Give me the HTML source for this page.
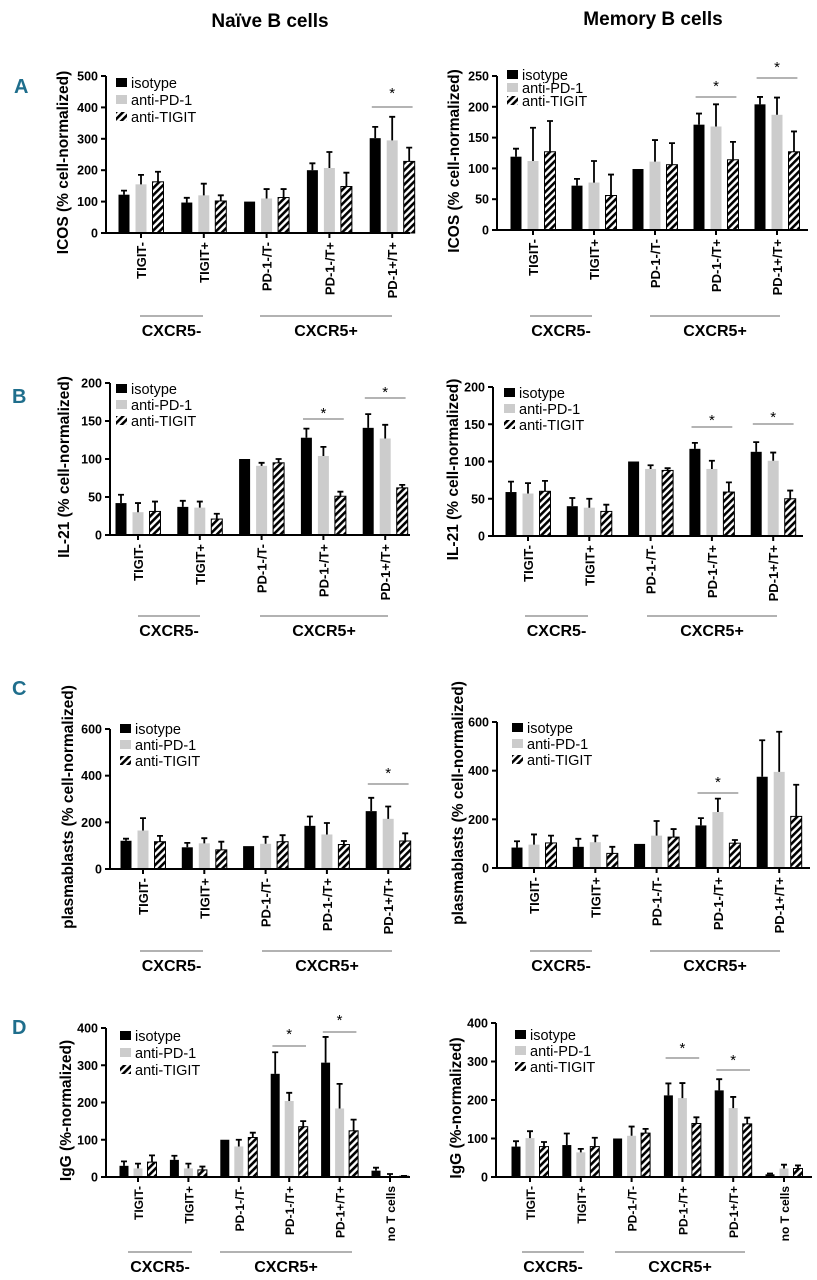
<!DOCTYPE html>
<html><head><meta charset="utf-8">
<style>
html,body{margin:0;padding:0;background:#fff;}
svg{display:block;font-family:"Liberation Sans",Arial,sans-serif;}
</style></head>
<body>
<svg id="fig" width="817" height="1280" viewBox="0 0 817 1280">
<defs>
<pattern id="hatch" patternUnits="userSpaceOnUse" width="5" height="5" patternTransform="rotate(45)">
<rect width="5" height="5" fill="#fff"/><rect width="2.6" height="5" fill="#000"/>
</pattern>
</defs>
<text x="270" y="27" font-size="19" font-weight="bold" text-anchor="middle">Naïve B cells</text>
<text x="653" y="25" font-size="19" font-weight="bold" text-anchor="middle">Memory B cells</text>
<text x="14" y="93" font-size="20" font-weight="bold" fill="#1f6e8c">A</text>
<text x="12" y="403" font-size="20" font-weight="bold" fill="#1f6e8c">B</text>
<text x="12" y="695" font-size="20" font-weight="bold" fill="#1f6e8c">C</text>
<text x="12" y="1034" font-size="20" font-weight="bold" fill="#1f6e8c">D</text>
</svg>
<script>
const cats5 = ["TIGIT-","TIGIT+","PD-1-/T-","PD-1-/T+","PD-1+/T+"];
const cats6 = ["TIGIT-","TIGIT+","PD-1-/T-","PD-1-/T+","PD-1+/T+","no T cells"];
const seriesNames = ["isotype","anti-PD-1","anti-TIGIT"];

const A_naive_iso = [122,97,100,200,302];
const A_naive_pd1 = [155,120,110,207,295];
const A_naive_tig = [163,102,113,148,228];
const A_naive_iso_err = [13,15,0,22,36];
const A_naive_pd1_err = [30,37,30,51,75];
const A_naive_tig_err = [32,18,27,44,44];
const A_naive_ticks = [0,100,200,300,400,500];

const A_mem_iso = [119,72,99,171,204];
const A_mem_pd1 = [112,77,111,168,187];
const A_mem_tig = [127,56,106,114,127];
const A_mem_iso_err = [13,11,0,18,12];
const A_mem_pd1_err = [54,35,35,36,28];
const A_mem_tig_err = [50,34,35,29,33];
const A_mem_ticks = [0,50,100,150,200,250];

const B_naive_iso = [42,37,100,128,141];
const B_naive_pd1 = [30,36,91,104,127];
const B_naive_tig = [31,21,95,51,62];
const B_naive_iso_err = [11,8,0,12,18];
const B_naive_pd1_err = [12,8,4,12,18];
const B_naive_tig_err = [13,7,5,6,4];
const B_naive_ticks = [0,50,100,150,200];

const B_mem_iso = [59,40,100,117,113];
const B_mem_pd1 = [57,38,90,90,101];
const B_mem_tig = [60,33,88,59,50];
const B_mem_iso_err = [14,11,0,8,13];
const B_mem_pd1_err = [14,12,5,11,11];
const B_mem_tig_err = [14,9,3,13,11];
const B_mem_ticks = [0,50,100,150,200];

const C_naive_iso = [121,93,98,185,248];
const C_naive_pd1 = [165,110,108,148,215];
const C_naive_tig = [117,82,117,105,120];
const C_naive_iso_err = [9,19,0,40,57];
const C_naive_pd1_err = [53,22,30,49,53];
const C_naive_tig_err = [25,35,28,15,33];
const C_naive_ticks = [0,200,400,600];

const C_mem_iso = [84,87,99,175,375];
const C_mem_pd1 = [96,106,133,230,395];
const C_mem_tig = [103,60,127,102,212];
const C_mem_iso_err = [26,33,0,30,150];
const C_mem_pd1_err = [42,27,60,55,165];
const C_mem_tig_err = [30,27,33,13,130];
const C_mem_ticks = [0,200,400,600];

const D_naive_iso = [30,46,100,277,307,17];
const D_naive_pd1 = [23,23,82,204,184,2];
const D_naive_tig = [40,19,106,135,124,2];
const D_naive_iso_err = [12,11,0,58,69,8];
const D_naive_pd1_err = [13,13,18,22,66,6];
const D_naive_tig_err = [18,9,13,15,30,1];
const D_naive_ticks = [0,100,200,300,400];

const D_mem_iso = [79,83,100,212,225,7];
const D_mem_pd1 = [101,64,107,205,179,22];
const D_mem_tig = [79,79,114,139,138,22];
const D_mem_iso_err = [14,30,0,31,29,2];
const D_mem_pd1_err = [18,9,24,39,29,10];
const D_mem_tig_err = [12,23,11,16,16,8];
const D_mem_ticks = [0,100,200,300,400];

const NS = "http://www.w3.org/2000/svg";
const svg = document.getElementById("fig");
function mk(tag, attrs, parent, txt){
  const e = document.createElementNS(NS, tag);
  for (const k in attrs) e.setAttribute(k, attrs[k]);
  if (txt !== undefined) e.textContent = txt;
  (parent||svg).appendChild(e);
  return e;
}

const panels = [
 {id:"a-naive", cats:cats5, vals:[A_naive_iso,A_naive_pd1,A_naive_tig], errs:[A_naive_iso_err,A_naive_pd1_err,A_naive_tig_err], ticks:A_naive_ticks,
  ax:106, y0:233, yt:76, right:410, c0:141, sp:62.8, bw:11, bs:17, title:"ICOS (% cell-normalized)", tx:62,
  leg:[116,83,17], stars:[[4,107,90]], neg:[140,203], pos:[260,392], ly:316, xfs:13},
 {id:"a-memory", cats:cats5, vals:[A_mem_iso,A_mem_pd1,A_mem_tig], errs:[A_mem_iso_err,A_mem_pd1_err,A_mem_tig_err], ticks:A_mem_ticks,
  ax:497, y0:230, yt:76, right:808, c0:533, sp:61, bw:11, bs:17, title:"ICOS (% cell-normalized)", tx:453,
  leg:[507,75,13], stars:[[3,97,83],[4,78,64]], neg:[530,592], pos:[650,780], ly:316, xfs:13},
 {id:"b-naive", cats:cats5, vals:[B_naive_iso,B_naive_pd1,B_naive_tig], errs:[B_naive_iso_err,B_naive_pd1_err,B_naive_tig_err], ticks:B_naive_ticks,
  ax:110, y0:535, yt:383, right:410, c0:138, sp:61.8, bw:11, bs:17, title:"IL-21 (% cell-normalized)", tx:63,
  leg:[116,389,16], stars:[[3,419,410],[4,398,389]], neg:[138,200], pos:[260,388], ly:616, xfs:13},
 {id:"b-memory", cats:cats5, vals:[B_mem_iso,B_mem_pd1,B_mem_tig], errs:[B_mem_iso_err,B_mem_pd1_err,B_mem_tig_err], ticks:B_mem_ticks,
  ax:493, y0:536, yt:387, right:803, c0:528, sp:61.3, bw:11, bs:17, title:"IL-21 (% cell-normalized)", tx:452,
  leg:[504,393,16], stars:[[3,427,417],[4,424,414]], neg:[525,588], pos:[647,777], ly:616, xfs:13},
 {id:"c-naive", cats:cats5, vals:[C_naive_iso,C_naive_pd1,C_naive_tig], errs:[C_naive_iso_err,C_naive_pd1_err,C_naive_tig_err], ticks:C_naive_ticks,
  ax:110, y0:869, yt:729, right:410, c0:143, sp:61.3, bw:11, bs:17, title:"plasmablasts (% cell-normalized)", tx:67,
  leg:[120,729,16], stars:[[4,784,770]], neg:[140,203], pos:[262,392], ly:951, xfs:13},
 {id:"c-memory", cats:cats5, vals:[C_mem_iso,C_mem_pd1,C_mem_tig], errs:[C_mem_iso_err,C_mem_pd1_err,C_mem_tig_err], ticks:C_mem_ticks,
  ax:497, y0:868, yt:722, right:810, c0:534, sp:61.3, bw:11, bs:17, title:"plasmablasts (% cell-normalized)", tx:457,
  leg:[512,728,16], stars:[[3,793,779]], neg:[530,592], pos:[650,780], ly:951, xfs:13},
 {id:"d-naive", cats:cats6, vals:[D_naive_iso,D_naive_pd1,D_naive_tig], errs:[D_naive_iso_err,D_naive_pd1_err,D_naive_tig_err], ticks:D_naive_ticks,
  ax:106, y0:1177, yt:1028, right:410, c0:138, sp:50.4, bw:9, bs:14, title:"IgG (%-normalized)", tx:65,
  leg:[120,1036,17], stars:[[3,1046,1031],[4,1032,1017]], neg:[128,192], pos:[220,352], ly:1252, xfs:12},
 {id:"d-memory", cats:cats6, vals:[D_mem_iso,D_mem_pd1,D_mem_tig], errs:[D_mem_iso_err,D_mem_pd1_err,D_mem_tig_err], ticks:D_mem_ticks,
  ax:496, y0:1177, yt:1023, right:812, c0:530, sp:50.8, bw:9, bs:14, title:"IgG (%-normalized)", tx:455,
  leg:[515,1035,16], stars:[[3,1058,1045],[4,1070,1057]], neg:[522,584], pos:[615,745], ly:1252, xfs:12}
];
const fills = ["#000","#cccccc","url(#hatch)"];

panels.forEach(p => {
  const g = mk("g", {});
  
  
  const max = p.ticks[p.ticks.length-1];
  const ys = v => p.y0 - v / max * (p.y0 - p.yt);
  const xc = i => p.c0 + i * p.sp;
  p.vals.forEach((arr, s) => {
    arr.forEach((v, i) => {
      const cx = xc(i) + (s-1) * p.bs;
      const top = ys(v);
      const r = mk("rect", {x:cx-p.bw/2, y:top, width:p.bw, height:Math.max(0,p.y0-top), fill:fills[s], stroke:s===2?"#000":"none", "stroke-width":s===2?1:0}, g);
      
      
      const e = p.errs[s][i];
      if (e > 0) {
        const et = ys(v + e);
        const l = mk("path", {d:`M${cx} ${top} V${et} M${cx-3} ${et} H${cx+3}`, stroke:"#000", "stroke-width":1.8, fill:"none"}, g);
        
        
      }
    });
  });
  const ya = mk("line", {x1:p.ax, y1:p.yt, x2:p.ax, y2:p.y0, stroke:"#000", "stroke-width":2}, g);
  
  
  const xa = mk("line", {x1:p.ax, y1:p.y0, x2:p.right, y2:p.y0, stroke:"#000", "stroke-width":2}, g);
  
  
  p.ticks.forEach(t => {
    const y = ys(t);
    mk("line", {x1:p.ax-5, y1:y, x2:p.ax, y2:y, stroke:"#000", "stroke-width":2}, g);
    const tl = mk("text", {x:p.ax-8, y:y+4.5, "font-size":12.5, "font-weight":"bold", "text-anchor":"end"}, g, String(t));
    
    
  });
  p.cats.forEach((c, i) => {
    const x = xc(i);
    mk("line", {x1:x, y1:p.y0, x2:x, y2:p.y0+5, stroke:"#000", "stroke-width":2}, g);
    const tl = mk("text", {x:0, y:0, "font-size":p.xfs, "font-weight":"bold", "text-anchor":"end",
      transform:`translate(${x+5},${p.y0+9}) rotate(-90)`}, g, c);
    
    
  });
  const ty = (p.y0 + p.yt) / 2 + 8;
  const yt = mk("text", {x:0, y:0, "font-size":15.5, "font-weight":"bold", "text-anchor":"middle",
    transform:`translate(${p.tx+6},${ty}) rotate(-90)`}, g, p.title);
  
  
  seriesNames.forEach((n, s) => {
    const y = p.leg[1] + s * p.leg[2];
    const sq = mk("rect", {x:p.leg[0], y:y-5, width:11, height:9, fill:fills[s]}, g);
    
    
    const lt = mk("text", {x:p.leg[0]+15, y:y+5, "font-size":14.5}, g, n);
    
    
  });
  p.stars.forEach(st => {
    const x = xc(st[0]);
    const hw = p.bs * 1.2;
    const sl = mk("line", {x1:x-hw, y1:st[1], x2:x+hw, y2:st[1], stroke:"#888", "stroke-width":1.2}, g);
    
    
    const sx = mk("text", {x:x, y:st[2]+8, "font-size":15, "text-anchor":"middle"}, g, "*");
    
    
  });
  [[p.neg,"CXCR5-"],[p.pos,"CXCR5+"]].forEach(([r, lab]) => {
    const bl = mk("line", {x1:r[0], y1:p.ly, x2:r[1], y2:p.ly, stroke:"#999", "stroke-width":1.5}, g);
    
    
    const bt = mk("text", {x:(r[0]+r[1])/2, y:p.ly+20, "font-size":16, "font-weight":"bold", "text-anchor":"middle"}, g, lab);
    
    
  });
});
</script>
</body></html>
